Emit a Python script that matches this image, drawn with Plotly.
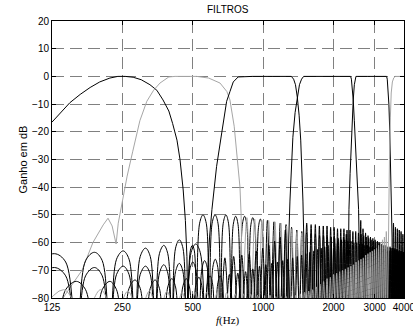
import plotly.graph_objects as go
import math

FREQ_TICKS = [125, 250, 500, 1000, 2000, 3000, 4000]
FREQ_LABELS = ["125", "250", "500", "1000", "2000", "3000", "4000"]
DB_TICKS = [20, 10, 0, -10, -20, -30, -40, -50, -60, -70, -80]
NULL_DB = -86

BLACK = "#000000"
GRAY = "#a6a6a6"

# ---------------- Filter A (black) ----------------
A_MAIN_HZ = [125, 135, 149, 165, 182, 200, 221, 239, 257, 278, 301, 328, 351, 373, 395, 410, 428, 441, 455, 465, 472, 478]
A_MAIN_DB = [-16.5, -13.5, -9.5, -6.5, -4, -2, -0.6, 0, 0, -0.3, -1.2, -3, -5, -8.5, -12.5, -17, -23, -30, -41, -52, -65, -95]
A_SH_HZ = [478, 488, 498, 508, 518, 535, 553, 571, 588, 605, 623, 641, 658, 675, 693, 711, 728,
           745, 763, 781, 798, 815, 833, 851, 868, 885, 903, 921, 938, 955, 973, 991, 1008]
A_SH_DB = [-95, -63, -61, -63, -95, -53, -50, -53, -95, -53, -50, -53, -95, -53, -50, -53, -95,
           -53.5, -50.5, -53.5, -95, -53.5, -50.5, -53.5, -95, -54, -51, -54, -95, -54.5, -51.5, -54.5, -95]
A_PK_HZ = [1043, 1113, 1183, 1253, 1323, 1393, 1463, 1533, 1603, 1673, 1743, 1813, 1883, 1953, 2023,
           2093, 2163, 2233, 2303, 2373, 2443, 2513, 2583, 2653, 2723, 2793, 2863, 2933, 3003, 3073,
           3143, 3213, 3283, 3353, 3423, 3493, 3563, 3633, 3703, 3773, 3843, 3913, 3983, 4053]
A_PK_DB = [-52, -52.5, -53, -53.5, -54.5, -55.5, -56, -56.5, -57, -57, -57.5, -57.5, -58, -58, -58.5,
           -58.5, -59, -59, -59.5, -59.5, -60, -60, -60.5, -60.5, -61, -61, -61.5, -61.5, -62, -62,
           -62, -62.5, -62.5, -62.5, -63, -63, -63, -63, -63.5, -63.5, -63.5, -63.5, -64, -64]
A_NL_HZ = [1078, 1148, 1218, 1288, 1358, 1428, 1498, 1568, 1638, 1708, 1778, 1848, 1918, 1988, 2058,
           2128, 2198, 2268, 2338, 2408, 2478, 2548, 2618, 2688, 2758, 2828, 2898, 2968, 3038, 3108,
           3178, 3248, 3318, 3388, 3458, 3528, 3598, 3668, 3738, 3808, 3878, 3948, 4018]

# ---------------- Filter B (gray) ----------------
B_MAIN_HZ = [125, 139, 150, 168, 187, 207, 217, 226, 235, 240, 249, 262, 277, 297, 318, 340, 362, 395,
             420, 520, 585, 654, 700, 721, 752, 772, 796, 805, 812, 818]
B_MAIN_DB = [-86, -80, -76, -70, -60, -53.6, -51.2, -54, -60.5, -53, -46, -36, -27, -16, -9, -5, -2.4, -0.2,
             0, 0, -0.6, -2.4, -5.5, -8.5, -18, -29, -40, -50, -62, -95]
B_PK_HZ = [852, 920, 988, 1056, 1124, 1192, 1260, 1328, 1396, 1464, 1532, 1600, 1668, 1736, 1804, 1872,
           1940, 2008, 2076, 2144, 2212, 2280, 2348, 2416, 2484, 2552, 2620, 2688, 2756, 2824, 2892, 2960,
           3028, 3096, 3164, 3232, 3300, 3368, 3436, 3504, 3572, 3640, 3708, 3776, 3844, 3912, 3980, 4048]
B_PK_DB = [-51, -51.5, -52, -52, -52.5, -53, -54, -55, -56, -56.5, -57, -57.5, -58, -58.5, -59, -59.5,
           -60, -60, -60.5, -61, -61, -61.5, -62, -62.5, -63, -63, -63.5, -63.5, -64, -64, -64.5, -64.5,
           -65, -65, -65, -65.5, -65.5, -66, -66, -66, -66.5, -66.5, -66.5, -67, -67, -67, -67, -67]
B_NL_HZ = [818, 886, 954, 1022, 1090, 1158, 1226, 1294, 1362, 1430, 1498, 1566, 1634, 1702, 1770, 1838,
           1906, 1974, 2042, 2110, 2178, 2246, 2314, 2382, 2450, 2518, 2586, 2654, 2722, 2790, 2858,
           2926, 2994, 3062, 3130, 3198, 3266, 3334, 3402, 3470, 3538, 3606, 3674, 3742, 3810, 3878,
           3946, 4014]

# ---------------- Filter C (black) ----------------
C_SH_HZ = [97, 112, 128, 143, 159, 174, 190, 205, 221, 236, 252, 267, 283, 298, 314, 329, 345, 360,
           376, 391, 407, 422, 438, 454, 470, 492, 515, 538, 560]
C_SH_DB = [-95, -67, -64, -67, -95, -66.5, -63.5, -66.5, -95, -66, -63, -66, -95, -65, -62, -65, -95, -64,
           -61, -64, -95, -62, -59, -62, -95, -63.5, -60.5, -63.5, -95]
C_MAIN_HZ = [560, 575, 590, 604, 632, 665, 698, 721, 745, 782, 900, 1100, 1320, 1350, 1375, 1400, 1425,
             1448, 1465, 1480, 1492, 1502]
C_MAIN_DB = [-95, -75, -58, -48, -32.6, -20.4, -9, -5.5, -2, -0.2, 0, 0, 0, -1, -3, -7.5, -14, -23, -33,
             -45, -58, -95]
C_PK_HZ = [1536, 1604, 1672, 1740, 1808, 1876, 1944, 2012, 2080, 2148, 2216, 2284, 2352, 2420, 2488,
           2556, 2624, 2692, 2760, 2828, 2896, 2964, 3032, 3100, 3168, 3236, 3304, 3372, 3440, 3508,
           3576, 3644, 3712, 3780, 3848, 3916, 3984, 4052]
C_PK_DB = [-53, -53.5, -53.5, -54, -54, -54, -54.5, -54.5, -55, -55, -55, -55.5, -55.5, -56, -56,
           -56.5, -57, -57.5, -58, -58.5, -59, -59.5, -60, -60, -60.5, -61, -61, -61.5, -62, -62,
           -62, -62.5, -62.5, -63, -63, -63, -63.5, -63.5]
C_NL_HZ = [1502, 1570, 1638, 1706, 1774, 1842, 1910, 1978, 2046, 2114, 2182, 2250, 2318, 2386, 2454,
           2522, 2590, 2658, 2726, 2794, 2862, 2930, 2998, 3066, 3134, 3202, 3270, 3338, 3406, 3474,
           3542, 3610, 3678, 3746, 3814, 3882, 3950, 4018]

# ---------------- Filter D (black) ----------------
D_SH_HZ = [97, 112, 128, 143, 159, 174, 190, 205, 221, 236, 252, 267, 283, 298, 314, 329, 345, 360, 376,
           391, 407, 422, 438, 454, 469, 485, 500, 516, 531, 547, 562, 578, 593, 609, 624, 640, 655]
D_SH_DB = [-95, -72, -69, -72, -95, -72, -69, -72, -95, -71.5, -68.5, -71.5, -95, -71.5, -68.5, -71.5,
           -95, -71, -68, -71, -95, -70.5, -67.5, -70.5, -95, -70, -67, -70, -95, -69.5, -66.5, -69.5,
           -95, -69, -66, -69, -95]
D_LPK_HZ = [686, 748, 810, 872, 934, 996, 1058, 1120, 1182, 1244]
D_LPK_DB = [-65.5, -65, -64.5, -64, -63, -62, -61, -59.5, -58, -55.5]
D_LNL_HZ = [717, 779, 841, 903, 965, 1027, 1089, 1151, 1213, 1270]
D_MAIN_HZ = [1270, 1285, 1302, 1320, 1340, 1370, 1400, 1430, 1460, 1490, 1800, 2100, 2367, 2385, 2400,
             2428, 2455, 2490, 2530, 2560, 2575, 2590]
D_MAIN_DB = [-95, -60, -45, -33, -22, -13, -7.3, -3, -1, 0, 0, 0, 0, -1, -3, -8.5, -16, -28, -40, -48,
             -60, -95]
D_PK_HZ = [2615, 2674, 2742, 2810, 2878, 2946, 3014, 3082, 3150, 3218, 3286, 3354, 3422, 3490, 3558,
           3626, 3694, 3762, 3830, 3898, 3966, 4034]
D_PK_DB = [-52, -55, -56.5, -57.5, -58, -58.5, -59, -59.5, -60, -60.5, -61, -61, -61.5, -61.5, -62,
           -62, -62.5, -62.5, -63, -63, -63.5, -63.5]
D_NL_HZ = [2590, 2640, 2708, 2776, 2844, 2912, 2980, 3048, 3116, 3184, 3252, 3320, 3388, 3456, 3524,
           3592, 3660, 3728, 3796, 3864, 3932, 4000, 4068]

# ---------------- Filter E (black) ----------------
E_SH_HZ = [66, 81, 97, 112, 128, 143, 159, 174, 190, 205, 221, 236, 252, 267, 283, 298, 314, 329, 345,
           360, 376, 391, 407, 422, 438, 453, 469, 484, 500, 515, 531, 546, 562, 577, 593, 608, 624,
           639, 655, 670, 686]
E_SH_DB = [-95, -77, -74, -77, -95, -77, -74, -77, -95, -77, -74, -77, -95, -76.5, -73.5, -76.5, -95,
           -76.5, -73.5, -76.5, -95, -76, -73, -76, -95, -76, -73, -76, -95, -75.5, -72.5, -75.5, -95,
           -75, -72, -75, -95, -75, -72, -75, -95]
E_LPK_HZ = [717, 779, 841, 903, 965, 1027, 1089, 1151, 1213, 1275, 1337, 1399, 1461, 1523, 1585, 1647,
            1709, 1771, 1833, 1895, 1957, 2019, 2081, 2143, 2205, 2267]
E_LPK_DB = [-71.5, -71, -70.5, -69.5, -68.5, -68, -67.5, -67, -66.5, -66, -65.5, -65, -64.5, -64, -63.5,
            -63, -62.5, -62, -61.5, -61, -60.5, -60, -59.5, -59, -58, -57]
E_LNL_HZ = [748, 810, 872, 934, 996, 1058, 1120, 1182, 1244, 1306, 1368, 1430, 1492, 1554, 1616, 1678,
            1740, 1802, 1864, 1926, 1988, 2050, 2112, 2174, 2236, 2298]
E_MAIN_HZ = [2298, 2315, 2328, 2355, 2385, 2410, 2428, 2455, 2475, 2494, 2800, 3100, 3373, 3395, 3420,
             3450, 3480, 3510, 3544, 3560, 3575]
E_MAIN_DB = [-95, -60, -48, -35, -22, -13, -8.5, -3, -1, 0, 0, 0, 0, -1, -4, -10, -20, -33, -45, -58, -95]
E_PK_HZ = [3610, 3680, 3750, 3820, 3890, 3960, 4030]
E_PK_DB = [-53, -54.5, -55, -55.5, -56, -57, -57.5]
E_NL_HZ = [3575, 3645, 3715, 3785, 3855, 3925, 3995, 4065]

# ---------------- Filter F (gray) ----------------
F_PK_HZ = [140, 202, 264, 326, 388, 450, 512, 574, 636, 698, 760, 822, 884, 946, 1008, 1070, 1132, 1194,
           1256, 1318, 1380, 1442, 1504, 1566, 1628, 1690, 1752, 1814, 1876, 1938, 2000, 2062, 2124,
           2186, 2248, 2310, 2372, 2434, 2496, 2558, 2620, 2682, 2744, 2806, 2868, 2930, 2992, 3054,
           3116, 3178, 3240, 3302, 3364]
F_PK_DB = [-77, -77, -77.5, -77.5, -77.5, -78, -78, -78, -78, -78, -78.5, -78.5, -78.5, -79, -79,
           -79, -79.5, -79.5, -79.5, -79.5,
           -79, -78.5, -78, -77.5, -77, -76, -75, -74, -73, -72.5, -71.5, -71, -70.5, -70, -69.5, -69,
           -68.5, -68, -67, -66.5, -66, -65.5, -64.5, -64, -63.5, -63, -62.5, -62, -61, -60, -59, -58, -56]
F_NL_HZ = [109, 171, 233, 295, 357, 419, 481, 543, 605, 667, 729, 791, 853, 915, 977, 1039, 1101, 1163,
           1225, 1287, 1349, 1411, 1473, 1535, 1597, 1659, 1721, 1783, 1845, 1907, 1969, 2031, 2093,
           2155, 2217, 2279, 2341, 2403, 2465, 2527, 2589, 2651, 2713, 2775, 2837, 2899, 2961, 3023,
           3085, 3147, 3209, 3271, 3333, 3395]
F_MAIN_HZ = [3395, 3420, 3440, 3470, 3500, 3530, 3570, 3620, 3680, 4000, 4200]
F_MAIN_DB = [-95, -65, -50, -30, -15, -6, -2, -0.5, 0, 0, 0]


def merged(hz_a, db_a, pk_hz, pk_db, nl_hz):
    pts = list(zip(hz_a, db_a)) + list(zip(pk_hz, pk_db)) + [(h, NULL_DB) for h in nl_hz]
    pts.sort(key=lambda p: p[0])
    return [p[0] for p in pts], [p[1] for p in pts]


fig = go.Figure()


def add(x, y, color, spline):
    fig.add_trace(go.Scatter(
        x=x, y=y, mode="lines",
        line=dict(color=color, width=1, shape="spline" if spline else "linear"),
        hoverinfo="skip", showlegend=False))


# A
x, y = merged(A_SH_HZ, A_SH_DB, A_PK_HZ, A_PK_DB, A_NL_HZ)
add(x, y, BLACK, True)
add(A_MAIN_HZ, A_MAIN_DB, BLACK, False)
# B
add(B_MAIN_HZ, B_MAIN_DB, GRAY, False)
x, y = merged([], [], B_PK_HZ, B_PK_DB, B_NL_HZ)
add(x, y, GRAY, True)
# C
add(C_SH_HZ, C_SH_DB, BLACK, True)
add(C_MAIN_HZ, C_MAIN_DB, BLACK, False)
x, y = merged([], [], C_PK_HZ, C_PK_DB, C_NL_HZ)
add(x, y, BLACK, True)
# D
x, y = merged(D_SH_HZ, D_SH_DB, D_LPK_HZ, D_LPK_DB, D_LNL_HZ)
add(x, y, BLACK, True)
add(D_MAIN_HZ, D_MAIN_DB, BLACK, False)
x, y = merged([], [], D_PK_HZ, D_PK_DB, D_NL_HZ)
add(x, y, BLACK, True)
# E
x, y = merged(E_SH_HZ, E_SH_DB, E_LPK_HZ, E_LPK_DB, E_LNL_HZ)
add(x, y, BLACK, True)
add(E_MAIN_HZ, E_MAIN_DB, BLACK, False)
x, y = merged([], [], E_PK_HZ, E_PK_DB, E_NL_HZ)
add(x, y, BLACK, True)
# F
x, y = merged([], [], F_PK_HZ, F_PK_DB, F_NL_HZ)
add(x, y, GRAY, True)
add(F_MAIN_HZ, F_MAIN_DB, GRAY, False)

SANS = "Liberation Sans, Arial, sans-serif"
axis_common = dict(
    showgrid=True, gridcolor="#808080", gridwidth=1, griddash="12px,6px",
    ticks="inside", ticklen=4, tickcolor="#000000", tickwidth=1,
    showline=True, linecolor="#000000", linewidth=1, mirror="ticks",
    zeroline=False, automargin=False, ticklabeloverflow="allow",
    tickfont=dict(family=SANS, size=10, color="#000000"),
)

fig.update_layout(
    width=413, height=329,
    margin=dict(l=52, r=9, t=21, b=31),
    paper_bgcolor="white", plot_bgcolor="white",
    xaxis=dict(type="log", range=[math.log10(125), math.log10(4000) + 0.0004],
               tickvals=FREQ_TICKS, ticktext=FREQ_LABELS, **axis_common),
    yaxis=dict(range=[-80, 20], tickvals=DB_TICKS, **axis_common),
    annotations=[
        dict(text="FILTROS", xref="paper", yref="paper", x=0.5, y=(298 - 9) / 277,
             showarrow=False, xanchor="center", yanchor="middle",
             font=dict(family=SANS, size=10, color="#000000")),
        dict(text="Ganho em dB", xref="paper", yref="paper", x=(22 - 52) / 352, y=0.5,
             showarrow=False, textangle=-90, xanchor="center", yanchor="middle",
             font=dict(family=SANS, size=11, color="#000000")),
        dict(text="<i>f</i>(Hz)", xref="paper", yref="paper", x=0.5, y=(298 - 320) / 277,
             showarrow=False, xanchor="center", yanchor="middle",
             font=dict(family="Liberation Serif, Times New Roman, serif", size=11, color="#000000")),
    ],
    hovermode=False,
)

# remove the browser's default 8px page margin so the figure fills the window
fig.write_html("out.html", config={"displayModeBar": False, "staticPlot": True},
               post_script="document.body.style.margin='0';")
